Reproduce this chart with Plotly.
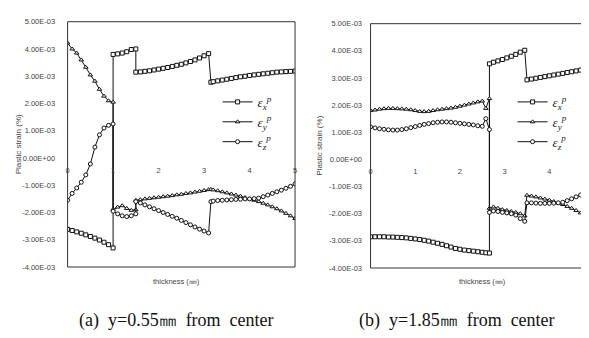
import plotly.graph_objects as go

W, H = 589, 338

# ---------------- data (strain values in units of 1e-3) ----------------
x_a = [0.0, 0.1, 0.2, 0.3, 0.4, 0.5, 0.6, 0.7, 0.8, 0.9, 1.0,
       1.0, 1.1, 1.2, 1.3, 1.4, 1.5,
       1.5, 1.6, 1.7, 1.8, 1.9, 2.0, 2.1, 2.2, 2.3, 2.4, 2.5, 2.6, 2.7, 2.8, 2.9, 3.0, 3.1,
       3.15, 3.2, 3.3, 3.4, 3.5, 3.6, 3.7, 3.8, 3.9, 4.0, 4.1, 4.2, 4.3, 4.4, 4.5, 4.6, 4.7, 4.8, 4.9, 5.0]
ex_a = [-2.62, -2.66, -2.71, -2.76, -2.82, -2.88, -2.94, -3.01, -3.09, -3.18, -3.30,
        3.80, 3.82, 3.85, 3.90, 3.98, 4.00,
        3.15, 3.16, 3.18, 3.20, 3.23, 3.26, 3.29, 3.32, 3.36, 3.40, 3.44, 3.49, 3.54, 3.60, 3.67, 3.75, 3.83,
        2.78, 2.80, 2.83, 2.86, 2.89, 2.92, 2.95, 2.98, 3.00, 3.03, 3.05, 3.07, 3.09, 3.11, 3.13, 3.15, 3.16, 3.17, 3.18, 3.19]
ey_a = [4.22, 4.00, 3.85, 3.60, 3.33, 3.05, 2.82, 2.52, 2.27, 2.10, 2.05,
        -1.88, -1.80, -1.75, -1.85, -1.92, -1.90,
        -1.55, -1.53, -1.50, -1.48, -1.46, -1.44, -1.42, -1.40, -1.38, -1.35, -1.33, -1.30, -1.28, -1.25, -1.22, -1.19, -1.16,
        -1.15, -1.17, -1.20, -1.24, -1.28, -1.32, -1.36, -1.40, -1.45, -1.50, -1.55, -1.60, -1.66, -1.72, -1.79, -1.86, -1.94, -2.03, -2.12, -2.22]
ez_a = [-1.55, -1.30, -1.10, -0.89, -0.62, -0.22, 0.40, 0.85, 1.10, 1.20, 1.25,
        -1.95, -2.05, -2.12, -2.15, -2.12, -2.05,
        -1.60, -1.65, -1.72, -1.79, -1.86, -1.93, -2.00, -2.07, -2.14, -2.21, -2.29, -2.37, -2.45, -2.53, -2.61, -2.68, -2.75,
        -1.60, -1.58, -1.56, -1.55, -1.54, -1.53, -1.52, -1.51, -1.50, -1.50, -1.49, -1.47, -1.42, -1.36, -1.30, -1.24, -1.18, -1.11, -1.04, -0.95]

x_b = [0.0, 0.1, 0.2, 0.3, 0.4, 0.5, 0.6, 0.7, 0.8, 0.9, 1.0, 1.1, 1.2, 1.3, 1.4, 1.5, 1.6, 1.7, 1.8, 1.9,
       2.0, 2.1, 2.2, 2.3, 2.4, 2.5, 2.58, 2.66,
       2.66, 2.75, 2.85, 2.95, 3.05, 3.15, 3.25, 3.35, 3.45,
       3.5, 3.6, 3.7, 3.8, 3.9, 4.0, 4.1, 4.2, 4.3, 4.4, 4.5, 4.6, 4.7, 4.8, 4.9, 5.0]
ex_b = [-2.85, -2.85, -2.85, -2.85, -2.86, -2.86, -2.87, -2.88, -2.89, -2.91, -2.93, -2.95, -2.98, -3.01, -3.05,
        -3.09, -3.13, -3.18, -3.23, -3.28, -3.31, -3.34, -3.36, -3.38, -3.40, -3.42, -3.44, -3.45,
        3.52, 3.58, 3.63, 3.68, 3.74, 3.80, 3.87, 3.95, 4.02,
        2.93, 2.96, 2.99, 3.02, 3.05, 3.08, 3.11, 3.14, 3.17, 3.20, 3.23, 3.26, 3.29, 3.32, 3.35, 3.38]
ey_b = [1.80, 1.82, 1.85, 1.87, 1.88, 1.88, 1.87, 1.86, 1.85, 1.83, 1.80, 1.77, 1.76, 1.77, 1.80,
        1.83, 1.85, 1.87, 1.89, 1.92, 1.96, 2.00, 2.04, 2.08, 2.12, 2.15, 1.88, 2.24,
        -1.80, -1.75, -1.80, -1.85, -1.88, -1.92, -1.95, -2.00, -2.08,
        -1.32, -1.35, -1.38, -1.42, -1.46, -1.50, -1.55, -1.60, -1.66, -1.73, -1.80, -1.88, -1.97, -2.07, -2.20, -2.37]
ez_b = [1.20, 1.16, 1.13, 1.11, 1.09, 1.08, 1.08, 1.10, 1.13, 1.17, 1.21, 1.25, 1.29, 1.32, 1.35,
        1.37, 1.38, 1.38, 1.37, 1.35, 1.33, 1.31, 1.29, 1.27, 1.24, 1.22, 1.50, 1.10,
        -1.95, -1.90, -1.92, -1.95, -1.97, -2.00, -2.05, -2.18, -2.28,
        -1.60, -1.60, -1.61, -1.62, -1.62, -1.62, -1.61, -1.60, -1.58, -1.52, -1.45, -1.38, -1.31, -1.24, -1.18, -1.12]

y_tickvals = [-4, -3, -2, -1, 0, 1, 2, 3, 4, 5]
y_ticktext = ["-4.00E-03", "-3.00E-03", "-2.00E-03", "-1.00E-03", "0.00E+00",
              "1.00E-03", "2.00E-03", "3.00E-03", "4.00E-03", "5.00E-03"]
x_tickvals = [0, 1, 2, 3, 4, 5]
x_ticktext = ["0", "1", "2", "3", "4", "5"]

series_names = ["<i>ε</i><sub><i>x</i></sub><sup><i>p</i></sup>",
                "<i>ε</i><sub><i>y</i></sub><sup><i>p</i></sup>",
                "<i>ε</i><sub><i>z</i></sub><sup><i>p</i></sup>"]
symbols = ["square", "triangle-up", "circle"]
captions = ["(a)  y=0.55㎜  from  center", "(b)  y=1.85㎜  from  center"]

# ---------------- layout geometry (pixels) ----------------
panels = [
    dict(x0=58, x1=287, y0=10, y1=262, xa="x", ya="y", leg="legend",
         legx=209, legy=77, data=(x_a, [ex_a, ey_a, ez_a]), ytl=10, ytitle_x=8,
         cap_x=168, xt_x=168),
    dict(x0=363, x1=588, y0=12, y1=263, xa="x2", ya="y2", leg="legend2",
         legx=506, legy=77, data=(x_b, [ex_b, ey_b, ez_b]), ytl=6, ytitle_x=312,
         cap_x=450, xt_x=476),
]

fig = go.Figure()
layout = dict(width=W, height=H, margin=dict(l=0, r=0, t=0, b=0),
              paper_bgcolor="white", plot_bgcolor="white", showlegend=True,
              annotations=[], shapes=[])

tick_font = dict(family="Liberation Sans", size=7.5, color="#444")
for i, p in enumerate(panels):
    xs, ys_list = p["data"]
    for name, sym, ys in zip(series_names, symbols, ys_list):
        fig.add_trace(go.Scatter(
            x=xs, y=ys, name=name, mode="lines+markers",
            xaxis=p["xa"], yaxis=p["ya"], legend=p["leg"],
            line=dict(color="#111", width=1),
            marker=dict(symbol=sym, size=4, color="white",
                        line=dict(color="#111", width=1)),
        ))
    xdom = [p["x0"] / W, p["x1"] / W]
    ydom = [1 - p["y1"] / H, 1 - p["y0"] / H]
    zero_pos = ydom[0] + (0 - (-4)) / 9 * (ydom[1] - ydom[0])
    suffix = "" if i == 0 else "2"
    layout["xaxis" + suffix] = dict(
        domain=xdom, range=[0, 5], anchor="free", position=zero_pos,
        showline=False, showgrid=False, zeroline=False,
        tickvals=x_tickvals, ticktext=x_ticktext, ticks="outside", ticklen=5,
        tickcolor="rgba(0,0,0,0)", tickfont=tick_font)
    layout["yaxis" + suffix] = dict(
        domain=ydom, range=[-4, 5], anchor=p["xa"],
        showline=False, showgrid=False, zeroline=False,
        tickvals=y_tickvals, ticktext=y_ticktext, ticks="outside", ticklen=p["ytl"],
        tickcolor="rgba(0,0,0,0)", tickfont=tick_font)
    layout[p["leg"]] = dict(
        x=p["legx"] / W, y=1 - p["legy"] / H, xanchor="left", yanchor="top",
        bgcolor="rgba(0,0,0,0)", borderwidth=0, itemwidth=30,
        font=dict(family="Liberation Serif", size=13, color="#222"),
        tracegroupgap=0)
    layout["shapes"].append(dict(
        type="rect", xref=p["xa"] + " domain", yref=p["ya"] + " domain",
        x0=0, x1=1, y0=0, y1=1, line=dict(color="#333", width=1), layer="above"))
    # axis titles
    layout["annotations"].append(dict(
        text="Plastic strain (%)", textangle=-90, showarrow=False,
        xref="paper", yref="paper", x=p["ytitle_x"] / W, y=(ydom[0] + ydom[1]) / 2,
        xanchor="center", yanchor="middle",
        font=dict(family="Liberation Sans", size=8, color="#444")))
    layout["annotations"].append(dict(
        text="thickness (㎜)", showarrow=False,
        xref="paper", yref="paper", x=p["xt_x"] / W, y=1 - 277 / H,
        xanchor="center", yanchor="middle",
        font=dict(family="Liberation Sans", size=7.5, color="#444")))
    layout["annotations"].append(dict(
        text=captions[i], showarrow=False,
        xref="paper", yref="paper", x=p["cap_x"] / W, y=1 - 317 / H,
        xanchor="center", yanchor="middle",
        font=dict(family="Liberation Serif", size=18, color="#111")))

fig.update_layout(**layout)
fig.write_html("out.html")
